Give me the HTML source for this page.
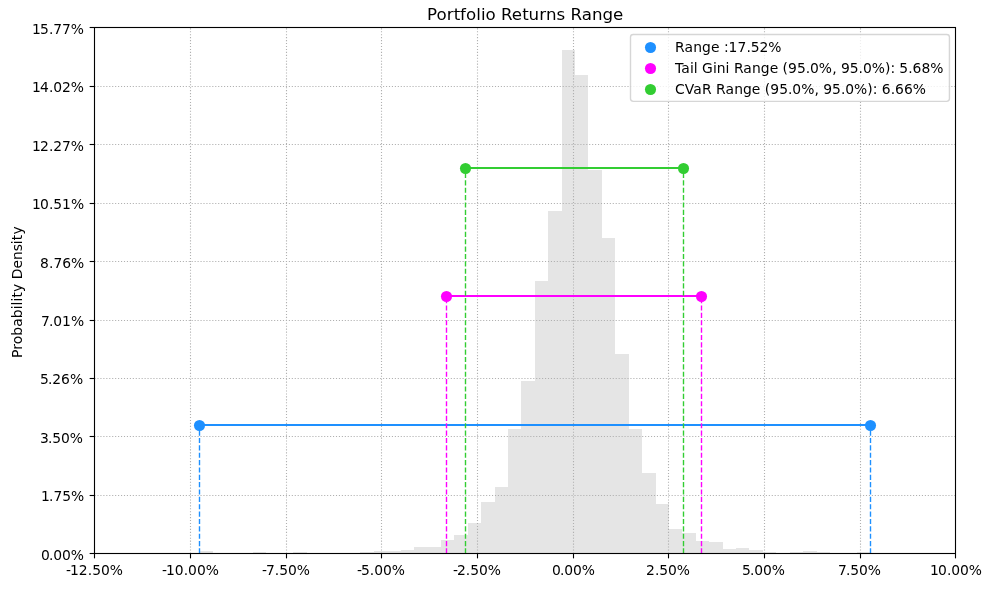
<!DOCTYPE html>
<html lang="en"><head><meta charset="utf-8"><title>Portfolio Returns Range</title>
<style>html,body{margin:0;padding:0;background:#fff}body{width:998px;height:589px;overflow:hidden}svg{display:block}text{font-family:"DejaVu Sans","Liberation Sans",sans-serif;fill:#000}.t{font-size:13.889px}.ti{font-size:16.667px}</style>
</head><body>
<svg width="998" height="589" viewBox="0 0 998 589">
<rect x="0" y="0" width="998" height="589" fill="#fff"/>
<path d="M199 553V551H213V553H226V553H240V553H253V552H266V553H280V553H293V552H307V553H320V553H334V553H347V553H360V552H374V551H387V551H401V550H414V547H427V547H441V540H454V535H468V523H481V502H495V487H508V429H521V381H535V281H548V211H562V50H575V75H588V170H602V238H615V354H629V429H642V473H656V504H669V529H682V533H696V541H709V542H723V549H736V548H749V550H763V552H776V553H790V552H803V551H817V552H830V553H843V553H857V552H870V553Z" fill="#e5e5e5"/>
<line x1="190.5" y1="553.5" x2="190.5" y2="27.5" stroke="#b0b0b0" stroke-width="1.111" stroke-dasharray="1.11111 1.83333"/>
<line x1="286.5" y1="553.5" x2="286.5" y2="27.5" stroke="#b0b0b0" stroke-width="1.111" stroke-dasharray="1.11111 1.83333"/>
<line x1="381.5" y1="553.5" x2="381.5" y2="27.5" stroke="#b0b0b0" stroke-width="1.111" stroke-dasharray="1.11111 1.83333"/>
<line x1="477.5" y1="553.5" x2="477.5" y2="27.5" stroke="#b0b0b0" stroke-width="1.111" stroke-dasharray="1.11111 1.83333"/>
<line x1="573.5" y1="553.5" x2="573.5" y2="27.5" stroke="#b0b0b0" stroke-width="1.111" stroke-dasharray="1.11111 1.83333"/>
<line x1="668.5" y1="553.5" x2="668.5" y2="27.5" stroke="#b0b0b0" stroke-width="1.111" stroke-dasharray="1.11111 1.83333"/>
<line x1="764.5" y1="553.5" x2="764.5" y2="27.5" stroke="#b0b0b0" stroke-width="1.111" stroke-dasharray="1.11111 1.83333"/>
<line x1="860.5" y1="553.5" x2="860.5" y2="27.5" stroke="#b0b0b0" stroke-width="1.111" stroke-dasharray="1.11111 1.83333"/>
<line x1="94.5" y1="495.5" x2="955.5" y2="495.5" stroke="#b0b0b0" stroke-width="1.111" stroke-dasharray="1.11111 1.83333"/>
<line x1="94.5" y1="436.5" x2="955.5" y2="436.5" stroke="#b0b0b0" stroke-width="1.111" stroke-dasharray="1.11111 1.83333"/>
<line x1="94.5" y1="378.5" x2="955.5" y2="378.5" stroke="#b0b0b0" stroke-width="1.111" stroke-dasharray="1.11111 1.83333"/>
<line x1="94.5" y1="320.5" x2="955.5" y2="320.5" stroke="#b0b0b0" stroke-width="1.111" stroke-dasharray="1.11111 1.83333"/>
<line x1="94.5" y1="261.5" x2="955.5" y2="261.5" stroke="#b0b0b0" stroke-width="1.111" stroke-dasharray="1.11111 1.83333"/>
<line x1="94.5" y1="203.5" x2="955.5" y2="203.5" stroke="#b0b0b0" stroke-width="1.111" stroke-dasharray="1.11111 1.83333"/>
<line x1="94.5" y1="144.5" x2="955.5" y2="144.5" stroke="#b0b0b0" stroke-width="1.111" stroke-dasharray="1.11111 1.83333"/>
<line x1="94.5" y1="86.5" x2="955.5" y2="86.5" stroke="#b0b0b0" stroke-width="1.111" stroke-dasharray="1.11111 1.83333"/>
<line x1="199.5" y1="425.0" x2="870.5" y2="425.0" stroke="#1e90ff" stroke-width="2.083"/>
<circle cx="199.5" cy="425.5" r="5.556" fill="#1e90ff"/>
<circle cx="870.5" cy="425.5" r="5.556" fill="#1e90ff"/>
<line x1="199.5" y1="553.5" x2="199.5" y2="425.3" stroke="#1e90ff" stroke-width="1.389" stroke-dasharray="5.13889 2.22222"/>
<line x1="870.5" y1="553.5" x2="870.5" y2="425.3" stroke="#1e90ff" stroke-width="1.389" stroke-dasharray="5.13889 2.22222"/>
<line x1="446.5" y1="296.0" x2="701.5" y2="296.0" stroke="#ff00ff" stroke-width="2.083"/>
<circle cx="446.5" cy="296.5" r="5.556" fill="#ff00ff"/>
<circle cx="701.5" cy="296.5" r="5.556" fill="#ff00ff"/>
<line x1="446.5" y1="553.5" x2="446.5" y2="296.3" stroke="#ff00ff" stroke-width="1.389" stroke-dasharray="5.13889 2.22222"/>
<line x1="701.5" y1="553.5" x2="701.5" y2="296.3" stroke="#ff00ff" stroke-width="1.389" stroke-dasharray="5.13889 2.22222"/>
<line x1="465.5" y1="168.0" x2="683.5" y2="168.0" stroke="#32cd32" stroke-width="2.083"/>
<circle cx="465.5" cy="168.5" r="5.556" fill="#32cd32"/>
<circle cx="683.5" cy="168.5" r="5.556" fill="#32cd32"/>
<line x1="465.5" y1="553.5" x2="465.5" y2="168.3" stroke="#32cd32" stroke-width="1.389" stroke-dasharray="5.13889 2.22222"/>
<line x1="683.5" y1="553.5" x2="683.5" y2="168.3" stroke="#32cd32" stroke-width="1.389" stroke-dasharray="5.13889 2.22222"/>
<line x1="94.5" y1="553.5" x2="94.5" y2="558.361" stroke="#000" stroke-width="1.111"/>
<line x1="190.5" y1="553.5" x2="190.5" y2="558.361" stroke="#000" stroke-width="1.111"/>
<line x1="286.5" y1="553.5" x2="286.5" y2="558.361" stroke="#000" stroke-width="1.111"/>
<line x1="381.5" y1="553.5" x2="381.5" y2="558.361" stroke="#000" stroke-width="1.111"/>
<line x1="477.5" y1="553.5" x2="477.5" y2="558.361" stroke="#000" stroke-width="1.111"/>
<line x1="573.5" y1="553.5" x2="573.5" y2="558.361" stroke="#000" stroke-width="1.111"/>
<line x1="668.5" y1="553.5" x2="668.5" y2="558.361" stroke="#000" stroke-width="1.111"/>
<line x1="764.5" y1="553.5" x2="764.5" y2="558.361" stroke="#000" stroke-width="1.111"/>
<line x1="860.5" y1="553.5" x2="860.5" y2="558.361" stroke="#000" stroke-width="1.111"/>
<line x1="955.5" y1="553.5" x2="955.5" y2="558.361" stroke="#000" stroke-width="1.111"/>
<line x1="94.5" y1="553.5" x2="89.639" y2="553.5" stroke="#000" stroke-width="1.111"/>
<line x1="94.5" y1="495.5" x2="89.639" y2="495.5" stroke="#000" stroke-width="1.111"/>
<line x1="94.5" y1="436.5" x2="89.639" y2="436.5" stroke="#000" stroke-width="1.111"/>
<line x1="94.5" y1="378.5" x2="89.639" y2="378.5" stroke="#000" stroke-width="1.111"/>
<line x1="94.5" y1="320.5" x2="89.639" y2="320.5" stroke="#000" stroke-width="1.111"/>
<line x1="94.5" y1="261.5" x2="89.639" y2="261.5" stroke="#000" stroke-width="1.111"/>
<line x1="94.5" y1="203.5" x2="89.639" y2="203.5" stroke="#000" stroke-width="1.111"/>
<line x1="94.5" y1="144.5" x2="89.639" y2="144.5" stroke="#000" stroke-width="1.111"/>
<line x1="94.5" y1="86.5" x2="89.639" y2="86.5" stroke="#000" stroke-width="1.111"/>
<line x1="94.5" y1="27.5" x2="89.639" y2="27.5" stroke="#000" stroke-width="1.111"/>
<rect x="94.5" y="27.5" width="861.0" height="526.0" fill="none" stroke="#000" stroke-width="1.111"/>
<text class="t" x="65.95 69.96 78.83 87.85 92.14 100.91 109.75" y="575">-12.50%</text>
<text class="t" x="161.95 165.96 174.84 183.85 188.09 196.91 205.75" y="575">-10.00%</text>
<text class="t" x="261.95 265.99 274.86 279.18 287.96 296.79" y="575">-7.50%</text>
<text class="t" x="356.95 360.94 369.86 374.14 382.96 391.79" y="575">-5.00%</text>
<text class="t" x="452.95 456.88 465.86 470.18 478.96 487.79" y="575">-2.50%</text>
<text class="t" x="551.99 559.91 564.21 573.05 581.87" y="575">0.00%</text>
<text class="t" x="645.97 654.91 659.25 668.05 676.87" y="575">2.50%</text>
<text class="t" x="742.01 749.9 754.21 763.04 771.86" y="575">5.00%</text>
<text class="t" x="838.07 845.9 850.24 859.04 867.86" y="575">7.50%</text>
<text class="t" x="930.07 937.92 946.89 951.17 959.98 968.81" y="575">10.00%</text>
<text class="t" x="40.99 48.91 53.21 62.05 70.87" y="560">0.00%</text>
<text class="t" x="41.07 48.99 53.43 62.2 70.99" y="501">1.75%</text>
<text class="t" x="40.1 47.9 52.24 61.04 69.86" y="443">3.50%</text>
<text class="t" x="40.01 47.9 52.2 61.08 69.99" y="384">5.26%</text>
<text class="t" x="41.07 48.9 53.21 62.1 70.99" y="326">7.01%</text>
<text class="t" x="40.12 49 53.44 62.21 71.12" y="268">8.76%</text>
<text class="t" x="32.07 39.92 48.89 53.2 62.02 70.94" y="209">10.51%</text>
<text class="t" x="32.07 39.91 48.89 53.16 62.09 70.81" y="151">12.27%</text>
<text class="t" x="32.07 39.99 48.89 53.17 61.97 70.81" y="92">14.02%</text>
<text class="t" x="32.07 39.97 48.89 53.26 62.09 70.81" y="34">15.77%</text>
<text class="ti" x="427.04 436.49 446.83 453.73 460.11 465.99 476.29 480.98 485.44 493.23 501.02 511.76 522.21 528.61 539.3 545.94 556.5 563.52 570.55 581.76 591.98 602.45 612.93" y="20">Portfolio Returns Range</text>
<text class="t" transform="translate(22 358) rotate(-90)" x="0.04 8.2 13.7 22.23 31.22 39.85 48.68 52.56 56.49 60.46 66.01 72.42 78.84 89.56 98.01 106.78 113.89 117.88 123.44" y="0">Probability Density</text>
<rect x="630.5" y="34.5" width="318.95" height="66.85" rx="2.78" ry="2.78" fill="#fff" fill-opacity="0.8" stroke="#ccc" stroke-opacity="0.8" stroke-width="1.389"/>
<circle cx="650.5" cy="47.5" r="5.556" fill="#1e90ff"/>
<circle cx="650.5" cy="68.5" r="5.556" fill="#ff00ff"/>
<circle cx="650.5" cy="89.5" r="5.556" fill="#32cd32"/>
<text class="t" x="675.09 684.5 693.18 702.04 711 717.49 723.99 728.62 737.58 746.41 750.74 759.52 768.34" y="52">Range :17.52%</text>
<text class="t" x="675.05 681.32 689.95 693.87 697.93 701.98 712.94 716.81 725.47 729.71 733.96 743.3 751.94 760.73 769.67 776.13 782.58 788.09 796.97 805.77 810.08 818.86 832.13 836.51 840.9 849.77 858.6 862.9 871.68 884.91 890.39 894.87 899.35 908.15 912.51 921.52 930.28" y="73">Tail Gini Range (95.0%, 95.0%): 5.68%</text>
<text class="t" x="674.9 684.83 693.28 702 709.04 716.08 725.45 734.14 742.9 751.86 758.33 764.79 770.32 779.2 788.08 792.35 801.14 814.41 818.82 823.22 832.1 840.91 845.25 854.06 867.3 872.75 877.25 881.75 890.82 895.08 904 912.86" y="94">CVaR Range (95.0%, 95.0%): 6.66%</text>
</svg></body></html>
